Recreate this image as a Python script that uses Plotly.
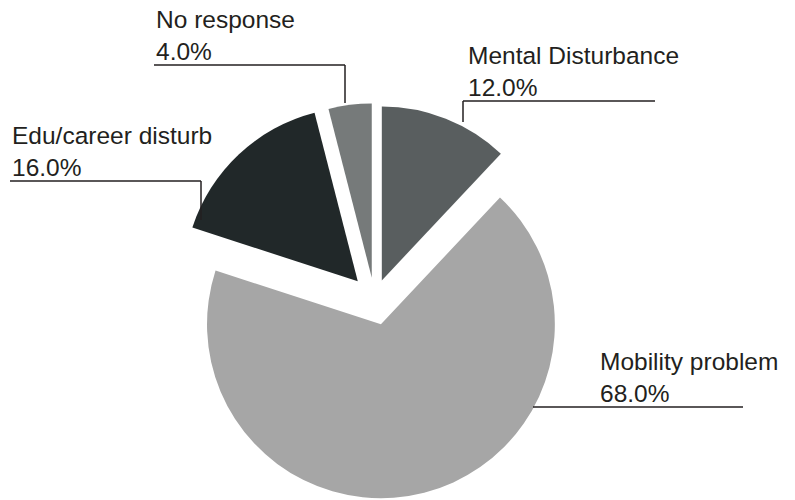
import plotly.graph_objects as go

labels = ["Mental Disturbance", "Mobility problem", "Edu/career disturb", "No response"]
values = [12.0, 68.0, 16.0, 4.0]
colors = ["#595e5f", "#a6a6a6", "#212829", "#767a7a"]
pulls = [0.115, 0.15, 0.14, 0.125]

W, H = 795, 500
OFF = 0  # page body margin removed via post_script

# label anchor (left x, leader-line y in page px) and leader geometry (page px)
label_pos = {
    "Mental Disturbance": dict(x=468, y=101, hline=(463, 655), vline=(463, 101, 122)),
    "Mobility problem": dict(x=600, y=407, hline=(533, 743), vline=None),
    "Edu/career disturb": dict(x=12, y=181, hline=(10, 201), vline=(201, 181, 220)),
    "No response": dict(x=156, y=65, hline=(154, 345), vline=(345, 65, 103)),
}

fig = go.Figure(go.Pie(
    labels=labels, values=values, sort=False, direction="clockwise", rotation=0,
    pull=pulls, marker=dict(colors=colors, line=dict(width=0)),
    textinfo="none", hoverinfo="label+percent", showlegend=False,
    domain=dict(x=[0.196, 0.746], y=[0.002, 0.802]),
))

def px(x):
    return (x - OFF) / W

def py(y):
    return 1 - (y - OFF) / H

shapes = []
annotations = []
for lab, val in zip(labels, values):
    p = label_pos[lab]
    x0, x1 = p["hline"]
    shapes.append(dict(type="line", xref="paper", yref="paper",
                       x0=px(x0), x1=px(x1), y0=py(p["y"]), y1=py(p["y"]),
                       line=dict(color="#231f20", width=1.5)))
    if p["vline"]:
        vx, vy0, vy1 = p["vline"]
        shapes.append(dict(type="line", xref="paper", yref="paper",
                           x0=px(vx), x1=px(vx), y0=py(vy0), y1=py(vy1),
                           line=dict(color="#231f20", width=1.5)))
    annotations.append(dict(
        xref="paper", yref="paper", x=px(p["x"] - 2), y=py(p["y"] + 2),
        xanchor="left", yanchor="bottom", align="left", showarrow=False,
        text=f"{lab}<br>{val:.1f}%",
        font=dict(family="Liberation Sans, Arial, sans-serif", size=24.5, color="#231f20"),
    ))

fig.update_layout(
    width=W, height=H, margin=dict(l=0, r=0, t=0, b=0),
    paper_bgcolor="white", plot_bgcolor="white",
    shapes=shapes, annotations=annotations,
)

fig.write_html("out.html", config={"displayModeBar": False},
               post_script="document.body.style.margin='0';")
